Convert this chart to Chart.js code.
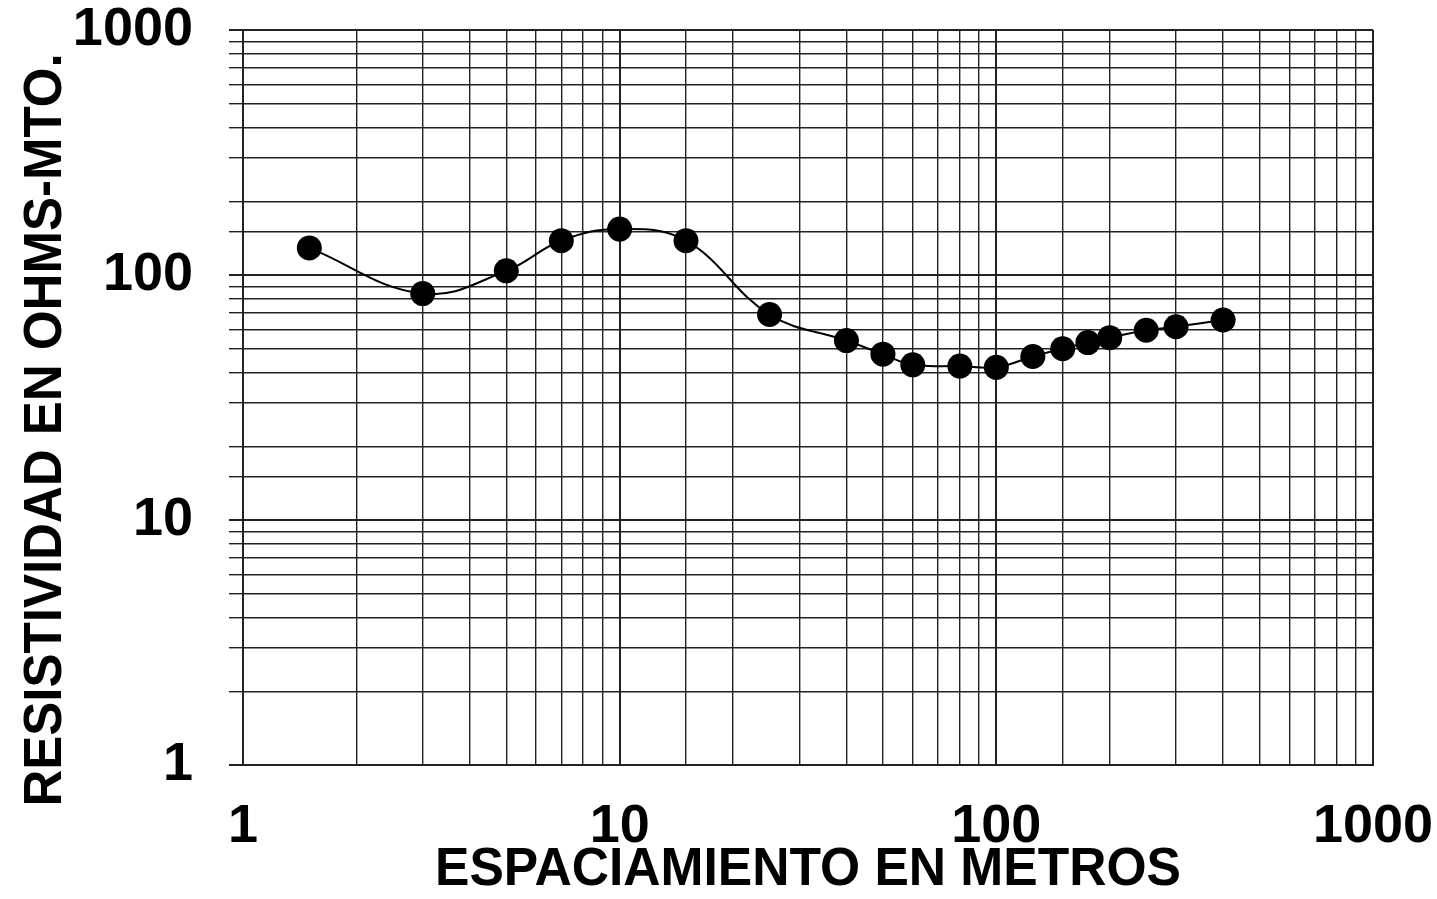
<!DOCTYPE html>
<html>
<head>
<meta charset="utf-8">
<script src="https://cdn.jsdelivr.net/npm/chart.js@4/dist/chart.umd.min.js"></script>
<style>
html,body{margin:0;padding:0;background:#fff;}
#wrap{width:1437px;height:899px;position:relative;}
</style>
</head>
<body>
<div id="wrap"><canvas id="c" width="1437" height="899"></canvas></div>
<script>
const spacing = [1.5, 3, 5, 7, 10, 15, 25, 40, 50, 60, 80, 100, 125, 150, 175, 200, 250, 300, 400];
const resistivity = [129, 84, 104, 138, 154, 138, 69, 54, 47.5, 43, 42.5, 42, 46.5, 50, 53, 55.5, 59.5, 61.5, 65.5];
const xTickLabels = [1, 10, 100, 1000];
const yTickLabels = [1, 10, 100, 1000];
const xTitle = 'ESPACIAMIENTO EN METROS';
const yTitle = 'RESISTIVIDAD EN OHMS-MTO.';

const FONT = "'Liberation Sans', Arial, sans-serif";

const titlePlugin = {
  id: 'titles',
  afterDraw(chart) {
    const ctx = chart.ctx;
    ctx.save();
    ctx.fillStyle = '#000';
    ctx.font = 'bold 54px ' + FONT;
    ctx.textAlign = 'center';
    ctx.textBaseline = 'middle';
    ctx.save();
    ctx.translate(808, 870);
    ctx.scale(0.955, 1);
    ctx.fillText(xTitle, 0, 0);
    ctx.restore();
    ctx.translate(46, 430);
    ctx.rotate(-Math.PI / 2);
    ctx.scale(0.945, 1);
    ctx.fillText(yTitle, 0, 0);
    ctx.restore();
  }
};

const data = spacing.map((x, i) => ({x: x, y: resistivity[i]}));

function gridWidth(ctx) {
  const v = ctx.tick && ctx.tick.value;
  if (v === undefined) return 1.4;
  const l = Math.log10(v);
  return Math.abs(l - Math.round(l)) < 1e-6 ? 2 : 1.4;
}

new Chart(document.getElementById('c'), {
  type: 'line',
  data: {
    datasets: [{
      data: data,
      borderColor: '#000',
      borderWidth: 2,
      backgroundColor: '#000',
      pointBackgroundColor: '#000',
      pointBorderColor: '#000',
      pointRadius: 12.5,
      pointBorderWidth: 0,
      tension: 0.4,
      fill: false
    }]
  },
  options: {
    responsive: false,
    animation: false,
    layout: {padding: {top: 30, right: 64, left: 0, bottom: 0}},
    plugins: {legend: {display: false}, tooltip: {enabled: false}},
    scales: {
      x: {
        type: 'logarithmic',
        position: 'bottom',
        min: 1, max: 1000,
        afterFit: s => { s.height = 134; s.paddingLeft = 0; s.paddingRight = 0; },
        border: {display: true, color: '#222', width: 2},
        grid: {color: '#222', lineWidth: gridWidth, drawTicks: false},
        ticks: {
          autoSkip: false,
          maxRotation: 0,
          padding: 30,
          color: '#000',
          font: {family: FONT, size: 54, weight: 'bold'},
          callback: v => xTickLabels.includes(v) ? String(v) : ''
        }
      },
      y: {
        type: 'logarithmic',
        position: 'left',
        min: 1, max: 1000,
        afterFit: s => { s.width = 243; s.paddingTop = 0; s.paddingBottom = 0; },
        border: {display: true, color: '#222', width: 2},
        grid: {color: '#222', lineWidth: gridWidth, drawTicks: true, tickLength: 14},
        ticks: {
          autoSkip: false,
          padding: 36,
          color: '#000',
          font: {family: FONT, size: 54, weight: 'bold'},
          callback: v => yTickLabels.includes(v) ? String(v) : ''
        }
      }
    }
  },
  plugins: [titlePlugin]
});
</script>
</body>
</html>
